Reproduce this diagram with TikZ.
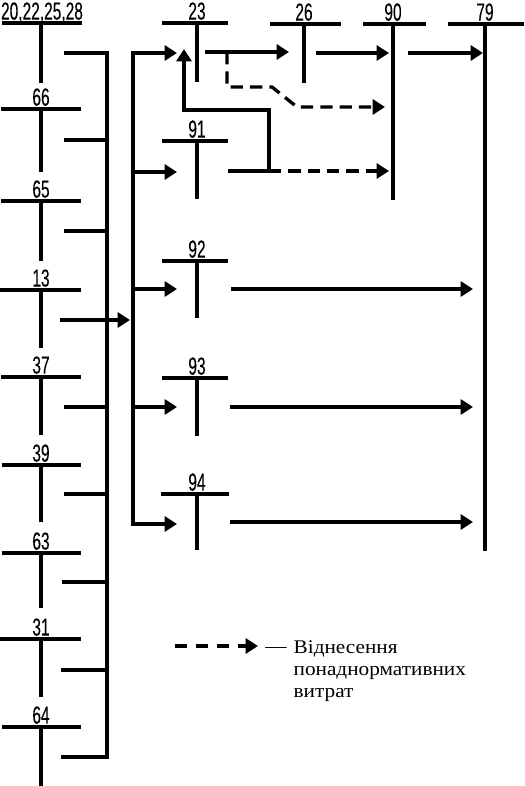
\documentclass[tikz,border=0pt]{standalone}
\usepackage{fontspec}
\setmainfont{Liberation Serif}
\newfontfamily\numfont[FakeStretch=0.63,FakeBold=0.12]{Liberation Sans}
\newfontfamily\legfont[FakeStretch=1.1]{Liberation Serif}
\usepackage{tikz}
\usetikzlibrary{arrows.meta,calc}

\begin{document}
\begin{tikzpicture}[x=0.02cm,y=-0.02cm,line width=1.9pt,
		num/.style={font={\numfont\fontsize{14pt}{15pt}\selectfont},anchor=south,inner sep=1pt,text depth=0pt},
		arr/.style={-{Triangle[length=7pt,width=8.5pt]}},
		dsh/.style={dash pattern=on 7pt off 4pt}]
			\useasboundingbox (0,0) rectangle (524,786);
			% left column
			\node[num] (t2022) at (42,23) {20,22,25,28};
			\node[num] (t66) at (41,109) {66};
			\node[num] (t65) at (41,201) {65};
			\node[num] (t13) at (41,290) {13};
			\node[num] (t37) at (41,377) {37};
			\node[num] (t39) at (41,465) {39};
			\node[num] (t63) at (41,553) {63};
			\node[num] (t31) at (41,639) {31};
			\node[num] (t64) at (41,727) {64};
			\draw ($(t2022.south)+(-40,0)$) -- ($(t2022.south)+(40,0)$) ($(t2022.south)+(-1,0)$) -- ($(t2022.south)+(-1,60)$);
			\draw ($(t66.south)+(-40,0)$) -- ($(t66.south)+(40,0)$) (t66.south) -- ($(t66.south)+(0,63)$);
			\draw ($(t65.south)+(-40,0)$) -- ($(t65.south)+(40,0)$) (t65.south) -- ($(t65.south)+(0,60)$);
			\draw ($(t13.south)+(-41,0)$) -- ($(t13.south)+(40,0)$) (t13.south) -- ($(t13.south)+(0,58)$);
			\draw ($(t37.south)+(-40,0)$) -- ($(t37.south)+(40,0)$) (t37.south) -- ($(t37.south)+(0,58)$);
			\draw ($(t39.south)+(-39,0)$) -- ($(t39.south)+(40,0)$) (t39.south) -- ($(t39.south)+(0,57)$);
			\draw ($(t63.south)+(-39,0)$) -- ($(t63.south)+(40,0)$) (t63.south) -- ($(t63.south)+(0,55)$);
			\draw ($(t31.south)+(-41,0)$) -- ($(t31.south)+(40,0)$) (t31.south) -- ($(t31.south)+(0,58)$);
			\draw ($(t64.south)+(-39,0)$) -- ($(t64.south)+(40,0)$) (t64.south) -- ($(t64.south)+(0,62)$);
			% middle column
			\node[num] (t23) at (197,23) {23};
			\node[num] (t91) at (197,141) {91};
			\node[num] (t92) at (197,261) {92};
			\node[num] (t93) at (197,378) {93};
			\node[num] (t94) at (197,494) {94};
			\draw ($(t23.south)+(-35,0)$) -- ($(t23.south)+(31,0)$) (t23.south) -- ($(t23.south)+(0,59)$);
			\draw ($(t91.south)+(-35,0)$) -- ($(t91.south)+(31,0)$) (t91.south) -- ($(t91.south)+(0,58)$);
			\draw ($(t92.south)+(-35,0)$) -- ($(t92.south)+(31,0)$) (t92.south) -- ($(t92.south)+(0,57)$);
			\draw ($(t93.south)+(-35,0)$) -- ($(t93.south)+(31,0)$) (t93.south) -- ($(t93.south)+(0,58)$);
			\draw ($(t94.south)+(-36,0)$) -- ($(t94.south)+(32,0)$) (t94.south) -- ($(t94.south)+(0,56)$);
			% top row
			\node[num] (t26) at (304,24) {26};
			\node[num] (t90) at (393,24) {90};
			\node[num] (t79) at (485,24) {79};
			\draw ($(t26.south)+(-34,0)$) -- ($(t26.south)+(37,0)$) (t26.south) -- ($(t26.south)+(0,59)$);
			\draw ($(t90.south)+(-30,0)$) -- ($(t90.south)+(33,0)$) (t90.south) -- ($(t90.south)+(0,176)$);
			\draw ($(t79.south)+(-37,0)$) -- ($(t79.south)+(39,0)$) (t79.south) -- ($(t79.south)+(0,527)$);
			% left bus
			\coordinate (busL) at (107,53);
			\coordinate (busLb) at (107,757);
			\coordinate (o2022) at (64,53);
			\coordinate (o66) at (64,140);
			\coordinate (o65) at (64,231);
			\coordinate (o13) at (60,320);
			\coordinate (o37) at (64,407);
			\coordinate (o39) at (64,494);
			\coordinate (o63) at (62,582);
			\coordinate (o31) at (61,670);
			\coordinate (o64) at (61,757);
			\draw (o2022) -| (busLb) -- (o64);
			\draw (o66) -- (o66 -| busL);
			\draw (o65) -- (o65 -| busL);
			\draw (o37) -- (o37 -| busL);
			\draw (o39) -- (o39 -| busL);
			\draw (o63) -- (o63 -| busL);
			\draw (o31) -- (o31 -| busL);
			% right bus
			\coordinate (busR) at (133,53);
			\coordinate (in13) at (130,320);
			\coordinate (in23) at (177,53);
			\coordinate (in91) at (177,172);
			\coordinate (in92) at (177,289);
			\coordinate (in93) at (177,407);
			\coordinate (in94) at (177,524);
			\draw[arr] (o13) -- (in13);
			\draw[arr] (in94 -| busR) |- (in23);
			\draw[arr] (in23 -| busR) |- (in94);
			\draw[arr] (in91 -| busR) -- (in91);
			\draw[arr] (in92 -| busR) -- (in92);
			\draw[arr] (in93 -| busR) -- (in93);
			% flows to the right
			\coordinate (o23) at (205,52);
			\coordinate (in26) at (289,52);
			\coordinate (o26) at (316,53);
			\coordinate (in90) at (389,53);
			\coordinate (o90) at (408,53);
			\coordinate (in79) at (483,53);
			\draw[arr] (o23) -- (in26);
			\draw[arr] (o26) -- (in90);
			\draw[arr] (o90) -- (in79);
			\coordinate (d23) at (227,52);
			\coordinate (d90) at (385,107);
			\draw[arr,dsh] (d23) -- ++(0,35) -- ++(45,0) -- ++(25,20) -- (d90);
			\coordinate (o91) at (228,171);
			\coordinate (j91) at (269,171);
			\coordinate (d90b) at (389,171);
			\coordinate (up23) at (184,49);
			\draw (o91) -- (j91);
			\draw[arr,dsh] (j91) -- (d90b);
			\draw[arr] (j91) -- ++(0,-61) -| (up23);
			\coordinate (to79) at (473,0);
			\coordinate (o92) at (231,289);
			\coordinate (o93) at (230,407);
			\coordinate (o94) at (230,522);
			\draw[arr] (o92) -- (o92 -| to79);
			\draw[arr] (o93) -- (o93 -| to79);
			\draw[arr] (o94) -- (o94 -| to79);
			% legend
			\coordinate (lg) at (175,646);
			\coordinate (lgend) at (258,646);
			\draw[arr,dash pattern=on 7pt off 5pt] (lg) -- (lgend);
			\node[font=\legfont\fontsize{11pt}{12.5pt}\selectfont,inner sep=0pt] (lgdash) at (276,650) {—};
			\node[font=\legfont\fontsize{11pt}{12.5pt}\selectfont,anchor=north west,align=left,inner sep=0pt] (lgtext) at (292,639) {Віднесення\\понаднормативних\\витрат};
		\end{tikzpicture}
\end{document}
